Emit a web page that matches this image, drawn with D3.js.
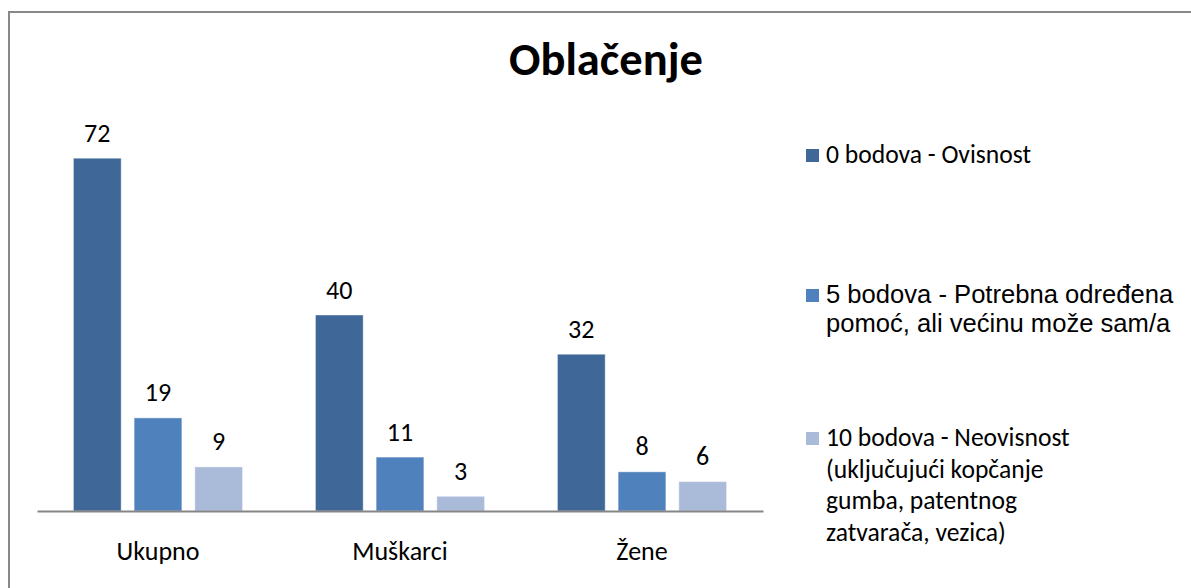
<!DOCTYPE html>
<html>
<head>
<meta charset="utf-8">
<script src="https://cdn.jsdelivr.net/npm/d3@7"></script>
<style>
  html, body { margin: 0; padding: 0; background: #fff; }
  svg { display: block; }
</style>
</head>
<body>
<svg id="chart" width="1191" height="588"></svg>
<script>
const title = "Oblačenje";
const categories = ["Ukupno", "Muškarci", "Žene"];
const seriesNames = [
  "0 bodova - Ovisnost",
  "5 bodova - Potrebna određena pomoć, ali većinu može sam/a",
  "10 bodova - Neovisnost (uključujući kopčanje gumba, patentnog zatvarača, vezica)"
];
const legendLines = [
  ["0 bodova - Ovisnost"],
  ["5 bodova - Potrebna određena", "pomoć, ali većinu može sam/a"],
  ["10 bodova - Neovisnost", "(uključujući kopčanje", "gumba, patentnog", "zatvarača, vezica)"]
];
const series0 = [72, 40, 32];
const series1 = [19, 11, 8];
const series2 = [9, 3, 6];
const seriesValues = [series0, series1, series2];
const colors = ["#3F6899", "#4F81BD", "#AABAD9"];

const svg = d3.select("#chart");
const calibri = "Carlito, Calibri, Lato, 'Open Sans', sans-serif";
const arial = "'Liberation Sans', Arial, sans-serif";

// outer border
svg.append("rect")
  .attr("x", 9).attr("y", 12).attr("width", 1300).attr("height", 700)
  .attr("fill", "none").attr("stroke", "#888").attr("stroke-width", 2);

// title
svg.append("text")
  .attr("x", 606).attr("y", 75)
  .attr("text-anchor", "middle")
  .attr("font-family", calibri).attr("font-weight", "bold").attr("font-size", 46.5)
  .attr("fill", "#000")
  .text(title);

const baseY = 511;
const x0 = d3.scaleBand().domain(categories).range([37, 763]).paddingInner(0).paddingOuter(0);
const x1 = d3.scaleBand().domain(d3.range(seriesNames.length)).range([0, x0.bandwidth()])
  .paddingInner(0.213).paddingOuter(0.6);
const y = d3.scaleLinear().domain([0, 80]).range([baseY, baseY - 392]);

const groups = svg.append("g").selectAll("g")
  .data(categories).join("g")
  .attr("transform", d => `translate(${x0(d)},0)`);

groups.selectAll("rect")
  .data((c, ci) => seriesValues.map((s, si) => ({ si, v: s[ci] })))
  .join("rect")
  .attr("x", d => x1(d.si))
  .attr("width", x1.bandwidth())
  .attr("y", d => y(d.v))
  .attr("height", d => baseY - y(d.v))
  .attr("fill", d => colors[d.si])
  .attr("stroke", "rgba(255,255,255,0.45)")
  .attr("stroke-width", 1);

groups.selectAll("text.val")
  .data((c, ci) => seriesValues.map((s, si) => ({ si, v: s[ci] })))
  .join("text")
  .attr("class", "val")
  .attr("x", d => x1(d.si) + x1.bandwidth() / 2)
  .attr("y", d => y(d.v) - 16.5)
  .attr("text-anchor", "middle")
  .attr("font-family", calibri).attr("font-size", 26)
  .attr("fill", "#000")
  .text(d => d.v);

// x axis
const xAxis = d3.axisBottom(x0).tickSize(0).tickPadding(0);
const axG = svg.append("g").attr("transform", `translate(0,${baseY})`).call(xAxis);
axG.select(".domain").attr("stroke", "#868686").attr("stroke-width", 2.2);
axG.selectAll(".tick text")
  .attr("font-family", calibri).attr("font-size", 26).attr("fill", "#000")
  .attr("dy", 0).attr("y", 49);

// legend
const legendTops = [155, 295, 438];
const lineGap = [0, 29, 31.5];
legendLines.forEach((lines, i) => {
  const g = svg.append("g");
  const isArial = i === 1;
  g.append("rect")
    .attr("x", 806).attr("y", legendTops[i] - 6).attr("width", 13).attr("height", 13)
    .attr("fill", colors[i]);
  const t = g.append("text")
    .attr("font-family", isArial ? arial : calibri)
    .attr("font-size", 25.6)
    .attr("fill", "#000");
  lines.forEach((ln, j) => {
    t.append("tspan").attr("x", 826).attr("y", legendTops[i] + 8 + j * lineGap[i]).text(ln);
  });
});
</script>
</body>
</html>
